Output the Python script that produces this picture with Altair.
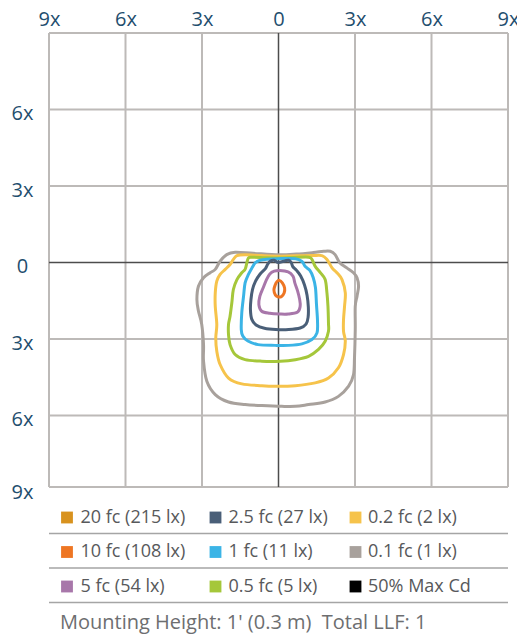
import altair as alt
import pandas as pd

# ---------------- data ----------------
tick_values_x = [-9, -6, -3, 0, 3, 6, 9]
tick_values_y = [6, 3, 0, -3, -6, -9]
grid_x = [-9, -6, -3, 3, 6, 9]
grid_y = [9, 6, 3, -3, -6]
grid_bottom = -8.8   # the reference's last row is cut short

levels = ["0.1 fc", "0.2 fc", "0.5 fc", "1 fc", "2.5 fc", "5 fc", "10 fc"]
level_colors = ["#A8A19C", "#F6C34B", "#A5C73A", "#3BB4E6", "#4A5F78", "#A877AA", "#EE7623"]

x_01 = [0.0, 0.7, 1.36, 1.77, 2.03, 2.22, 2.40, 2.68, 2.94, 3.08, 3.14, 3.08, 3.01, 3.01, 2.98, 2.94,
        2.75, 2.35, 1.83, 1.18, 0.66, 0.13, -0.65, -1.31, -1.96, -2.48, -2.81, -2.94, -2.94, -3.01,
        -3.14, -3.20, -3.14, -2.94, -2.68, -2.48, -2.29, -2.03, -1.70, -1.0]
y_01 = [0.30, 0.33, 0.39, 0.44, 0.44, 0.31, -0.01, -0.21, -0.40, -0.60, -0.93, -1.32, -1.72, -2.63,
        -3.74, -4.40, -4.85, -5.25, -5.47, -5.57, -5.64, -5.64, -5.61, -5.57, -5.47, -5.18, -4.66,
        -3.87, -3.22, -2.43, -1.90, -1.45, -0.93, -0.60, -0.40, -0.27, 0.05, 0.31, 0.40, 0.36]

x_02 = [0.0, 0.66, 1.31, 1.70, 1.90, 2.10, 2.29, 2.49, 2.62, 2.59, 2.55, 2.55, 2.62, 2.55, 2.35, 1.96,
        1.44, 0.66, -0.13, -0.65, -1.44, -1.96, -2.29, -2.42, -2.46, -2.42, -2.48, -2.48, -2.42,
        -2.29, -2.09, -1.90, -1.77, -1.63, -1.31, -0.66]
y_02 = [0.25, 0.26, 0.27, 0.27, 0.12, -0.21, -0.40, -0.67, -1.19, -1.72, -2.24, -2.70, -3.09, -3.61,
        -4.13, -4.53, -4.72, -4.83, -4.85, -4.83, -4.76, -4.53, -4.00, -3.48, -2.96, -2.43, -1.72,
        -1.19, -0.73, -0.47, -0.27, -0.08, 0.12, 0.27, 0.30, 0.27]

x_05 = [0.0, 0.6, 1.18, 1.31, 1.44, 1.64, 1.83, 1.90, 1.94, 1.96, 1.96, 1.83, 1.57, 1.18, 0.66, 0.07,
        -0.65, -1.31, -1.70, -1.90, -1.96, -1.96, -1.90, -1.83, -1.77, -1.63, -1.44, -1.31, -1.24,
        -1.18, -1.04, -0.5]
y_05 = [0.18, 0.20, 0.21, 0.12, -0.15, -0.40, -0.67, -1.19, -1.72, -2.37, -2.70, -3.09, -3.41, -3.68,
        -3.81, -3.87, -3.87, -3.81, -3.61, -3.22, -2.83, -2.43, -2.11, -1.58, -1.06, -0.67, -0.40,
        -0.27, -0.01, 0.18, 0.21, 0.19]

x_1 = [0.0, 0.66, 0.92, 1.05, 1.23, 1.36, 1.45, 1.49, 1.53, 1.51, 1.31, 0.92, 0.39, -0.13, -0.80,
       -1.20, -1.40, -1.46, -1.44, -1.37, -1.31, -1.18, -1.04, -0.91, -0.72, -0.46]
y_1 = [0.15, 0.15, 0.04, -0.16, -0.31, -0.59, -0.99, -1.65, -2.30, -2.76, -3.02, -3.19, -3.25, -3.25,
       -3.22, -3.08, -2.88, -2.63, -1.97, -1.32, -0.80, -0.47, -0.21, -0.01, 0.09, 0.13]

x_25 = [0.0, 0.25, 0.40, 0.50, 0.56, 0.70, 0.87, 1.02, 1.12, 1.17, 1.16, 1.08, 0.85, 0.40, -0.10,
        -0.55, -0.88, -1.05, -1.10, -1.08, -1.02, -0.90, -0.72, -0.52, -0.42, -0.32, -0.17, -0.08]
y_25 = [0.0, 0.06, 0.09, 0.0, -0.16, -0.30, -0.53, -0.88, -1.28, -1.75, -2.15, -2.42, -2.57, -2.63,
        -2.63, -2.58, -2.45, -2.22, -1.85, -1.45, -1.06, -0.73, -0.45, -0.25, -0.06, 0.06, 0.09, 0.03]

x_5 = [0.05, 0.38, 0.57, 0.64, 0.75, 0.83, 0.85, 0.75, 0.38, 0.05, -0.34, -0.66, -0.77, -0.73, -0.60,
       -0.47, -0.34, -0.17]
y_5 = [-0.31, -0.37, -0.54, -0.80, -1.12, -1.45, -1.71, -1.94, -2.02, -2.02, -1.99, -1.91, -1.65,
       -1.32, -0.99, -0.67, -0.45, -0.34]

x_10 = [0.03, 0.15, 0.24, 0.22, 0.12, 0.0, -0.12, -0.18, -0.13, -0.06]
y_10 = [-0.70, -0.80, -1.00, -1.20, -1.33, -1.35, -1.28, -1.08, -0.88, -0.75]

legend_labels = ["20 fc (215 lx)", "10 fc (108 lx)", "5 fc (54 lx)",
                 "2.5 fc (27 lx)", "1 fc (11 lx)", "0.5 fc (5 lx)",
                 "0.2 fc (2 lx)", "0.1 fc (1 lx)", "50% Max Cd"]
legend_colors = ["#D8921E", "#EE7623", "#A877AA",
                 "#4A5F78", "#3BB4E6", "#A5C73A",
                 "#F6C34B", "#A8A19C", "#000000"]
footer_text = "Mounting Height: 1' (0.3 m)\u00a0 Total LLF: 1"

# ---------------- build tables ----------------
series = [x_01, x_02, x_05, x_1, x_25, x_5, x_10]
series_y = [y_01, y_02, y_05, y_1, y_25, y_5, y_10]
rows = []
for lev, xs, ys in zip(levels, series, series_y):
    for i, (a, b) in enumerate(zip(xs, ys)):
        rows.append({"level": lev, "i": i, "x": a, "y": b})
cdf = pd.DataFrame(rows)

# legend layout (pixels, relative to plot area)
W, H = 459, 459
col_swatch = [18, 166.5, 306.5]
col_text = [31.5, 179.5, 319]
row_y = [484.5, 519, 553.5]
sep_y = [500.5, 535, 569.5]
leg = pd.DataFrame({
    "label": legend_labels,
    "color": legend_colors,
    "sx": [col_swatch[k // 3] for k in range(9)],
    "tx": [col_text[k // 3] for k in range(9)],
    "py": [row_y[k % 3] for k in range(9)],
})

FONT = "Open Sans"
LABEL_COLOR = "#1F4E6E"
GRID_COLOR = "#BDBAB8"

lab_expr = "datum.value == 0 ? '0' : abs(datum.value) + 'x'"
xenc = alt.X("x:Q", title=None,
             scale=alt.Scale(domain=[-9, 9], nice=False, zero=False),
             axis=alt.Axis(orient="top", values=tick_values_x, labelExpr=lab_expr,
                           grid=False, ticks=False, domain=False, labelFont=FONT,
                           labelFontSize=20, labelColor=LABEL_COLOR, labelPadding=8,
                           labelBaseline="alphabetic", labelFlush=False))
yenc = alt.Y("y:Q", title=None,
             scale=alt.Scale(domain=[-9, 9], nice=False, zero=False),
             axis=alt.Axis(orient="left", values=tick_values_y, labelExpr=lab_expr,
                           grid=False, ticks=False, domain=False, labelFont=FONT,
                           labelFontSize=20, labelColor=LABEL_COLOR, labelPadding=27,
                           labelAlign="center", labelBaseline="middle",
                           labelOffset={"condition": {"test": "datum.value == -9", "value": 0},
                                        "value": 4},
                           labelFlush=False))

vgrid = alt.Chart(pd.DataFrame({"x": grid_x, "y": [9] * len(grid_x),
                                "y2": [grid_bottom] * len(grid_x)})).mark_rule(
    color=GRID_COLOR, strokeWidth=2).encode(x=xenc, y=yenc, y2="y2:Q")
hgrid = alt.Chart(pd.DataFrame({"y": grid_y + [grid_bottom]})).mark_rule(
    color=GRID_COLOR, strokeWidth=2).encode(y=yenc)
vzero = alt.Chart(pd.DataFrame({"x": [0], "y": [9], "y2": [grid_bottom]})).mark_rule(
    color="#4D4D4D", strokeWidth=1.5).encode(x=xenc, y=yenc, y2="y2:Q")
hzero = alt.Chart(pd.DataFrame({"y": [0]})).mark_rule(color="#4D4D4D", strokeWidth=1.5).encode(y=yenc)

contours = alt.Chart(cdf).mark_line(interpolate="cardinal-closed", strokeWidth=3,
                                    strokeJoin="round").encode(
    x=xenc, y=yenc,
    color=alt.Color("level:N", scale=alt.Scale(domain=levels, range=level_colors), legend=None),
    detail="level:N",
    order="i:Q",
)

swatches = alt.Chart(leg).mark_square(size=140, opacity=1).encode(
    x=alt.X("sx:Q", scale=None, axis=None),
    y=alt.Y("py:Q", scale=None, axis=None),
    color=alt.Color("color:N", scale=None),
)
leg_text = alt.Chart(leg).mark_text(align="left", baseline="middle", font=FONT, fontSize=18,
                                    color="#58595B").encode(
    x=alt.X("tx:Q", scale=None, axis=None),
    y=alt.Y("py:Q", scale=None, axis=None),
    text="label:N",
)
seps = alt.Chart(pd.DataFrame({"sy": sep_y})).mark_rule(color="#A5A5A5", strokeWidth=1.5).encode(
    x=alt.value(0), x2=alt.value(W),
    y=alt.Y("sy:Q", scale=None, axis=None),
)
footer = alt.Chart(pd.DataFrame({"t": [footer_text]})).mark_text(
    align="left", baseline="middle", font=FONT, fontSize=20, color="#6D6E70").encode(
    x=alt.value(11), y=alt.value(590), text="t:N")

chart = alt.layer(vgrid, hgrid, vzero, hzero, contours, seps, swatches, leg_text, footer).properties(
    width=W, height=H,
    autosize=alt.AutoSizeParams(type="none"),
    padding={"left": 41, "top": 25, "right": 9, "bottom": 150},
).configure_view(stroke=None)

chart.save("out.html", embed_options={"renderer": "svg", "actions": False})
